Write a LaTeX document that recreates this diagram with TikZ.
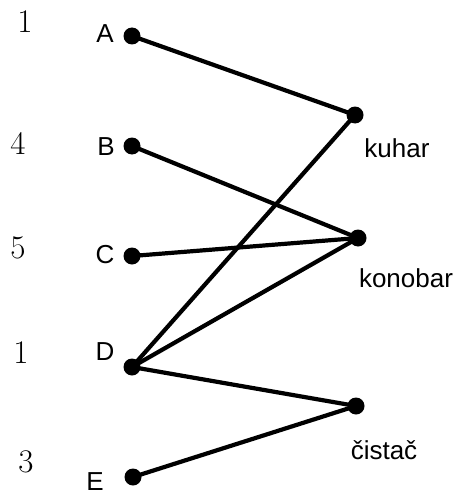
\documentclass[tikz,border=0pt]{standalone}
\usepackage{fontspec}
\newfontfamily\lab{Liberation Sans}
\begin{document}
\begin{tikzpicture}[x=1pt,y=-1pt,
  dot/.style={circle,fill=black,inner sep=0pt,minimum size=17pt},
  conn/.style={line width=4.2pt},
  lbl/.style={font=\lab\fontsize{26}{30}\selectfont,inner sep=0pt},
  num/.style={font=\fontsize{33}{38}\selectfont,inner sep=0pt}]
\useasboundingbox (0,0) rectangle (456,495);
\node[dot] (A) at (132,36) {};
\node[dot] (B) at (132,146) {};
\node[dot] (C) at (132,256) {};
\node[dot] (D) at (132,367) {};
\node[dot] (E) at (133,477) {};
\node[dot] (K) at (355,115) {};
\node[dot] (N) at (358,238) {};
\node[dot] (S) at (356,406) {};
\node[lbl] (lA) at (105,34) {A};
\node[lbl] (lB) at (106,147) {B};
\node[lbl] (lC) at (105,255) {C};
\node[lbl] (lD) at (105,352) {D};
\node[lbl] (lE) at (95,482) {E};
\node[lbl] (lK) at (397,148) {kuhar};
\node[lbl] (lN) at (406,278) {konobar};
\node[lbl] (lS) at (384,450) {čistač};
\node[num] (n1) at (25,22) {1};
\node[num] (n2) at (18,143) {4};
\node[num] (n3) at (18,248) {5};
\node[num] (n4) at (21,353) {1};
\node[num] (n5) at (26,462) {3};
\draw[conn] (A.center) -- (K.center);
\draw[conn] (B.center) -- (N.center);
\draw[conn] (C.center) -- (N.center);
\draw[conn] (D.center) -- (K.center);
\draw[conn] (D.center) -- (N.center);
\draw[conn] (D.center) -- (S.center);
\draw[conn] (E.center) -- (S.center);
\end{tikzpicture}
\end{document}
